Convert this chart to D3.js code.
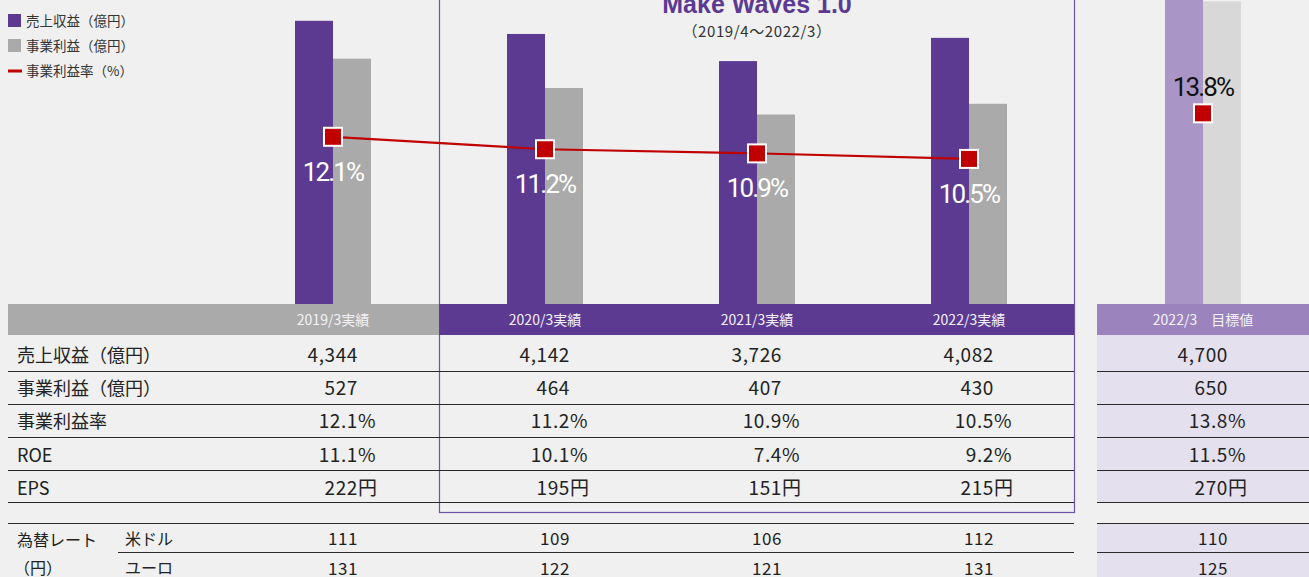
<!DOCTYPE html>
<html><head><meta charset="utf-8">
<script src="https://cdn.jsdelivr.net/npm/d3@7"></script>
<style>
html,body{margin:0;padding:0;background:#eff0ef;overflow:hidden}
svg{display:block}
</style></head>
<body>
<svg id="chart" width="1309" height="577"></svg>
<script>
// ---- data ----
const categories = ['2019/3実績','2020/3実績','2021/3実績','2022/3実績'];
const revenue = [4344, 4142, 3726, 4082];
const profit = [527, 464, 407, 430];
const margin = [12.1, 11.2, 10.9, 10.5];
const roe = [11.1, 10.1, 7.4, 9.2];
const eps = [222, 195, 151, 215];
const usd = [111, 109, 106, 112];
const eur = [131, 122, 121, 131];

const targetLabel = '2022/3　目標値';
const targetRevenue = 4700;
const targetProfit = 650;
const targetMargin = 13.8;
const targetRoe = 11.5;
const targetEps = 270;
const targetUsd = 110;
const targetEur = 125;

const legendLabels = ['売上収益（億円）','事業利益（億円）','事業利益率（%）'];
const rowLabels = ['売上収益（億円）','事業利益（億円）','事業利益率','ROE','EPS'];
const title = 'Make Waves 1.0';
const subtitle = '（2019/4～2022/3）';

// ---- styles ----
const PURPLE = '#5c3a92', GRAY = '#a9aaa9', RED = '#c00000';
const T_PURPLE = '#a995c6', T_GRAY = '#d8d8d8', T_HEAD = '#9b84bd', T_BG = '#e4e0ee';
const JP = '"Noto Sans CJK JP","Noto Sans",sans-serif';

const svg = d3.select('#chart');
const baseY = 304;

const x = d3.scaleBand().domain(categories).range([227, 1075]);
const xt = d3.scaleBand().domain([targetLabel]).range([1097, 1309]);
const cx = c => x(c) + x.bandwidth() / 2;
const tcx = xt(targetLabel) + xt.bandwidth() / 2;

const yRev = d3.scaleLinear().domain([0, 4663]).range([baseY, 0]);
const yPro = d3.scaleLinear().domain([0, 653]).range([baseY, 0]);
const yRate = d3.scaleLinear().domain([0, 22]).range([baseY, 0]);
const barW = 38;

// ---- table backgrounds ----
svg.append('rect').attr('x', 1097).attr('y', 335).attr('width', 212).attr('height', 167).attr('fill', T_BG);
svg.append('rect').attr('x', 1097).attr('y', 523).attr('width', 212).attr('height', 54).attr('fill', T_BG);

// ---- Make Waves box ----
svg.append('rect').attr('x', 439.5).attr('y', -5).attr('width', 635).attr('height', 517.5)
  .attr('fill', 'none').attr('stroke', '#6f52aa').attr('stroke-width', 1.2);
svg.append('text').attr('x', 757).attr('y', 13).attr('text-anchor', 'middle')
  .attr('font-family', '"Liberation Sans",Arial,sans-serif').attr('font-weight', 700).attr('font-size', 25)
  .attr('fill', PURPLE).text(title);
svg.append('text').attr('x', 757).attr('y', 37).attr('text-anchor', 'middle')
  .attr('font-family', JP).attr('font-size', 15).attr('letter-spacing', 0.6).attr('fill', '#333').text(subtitle);

// ---- bars ----
const g = svg.append('g');
g.selectAll('.rev').data(categories).join('rect')
  .attr('x', d => cx(d) - barW).attr('y', (d, i) => yRev(revenue[i]))
  .attr('width', barW).attr('height', (d, i) => baseY - yRev(revenue[i])).attr('fill', PURPLE);
g.selectAll('.pro').data(categories).join('rect')
  .attr('x', d => cx(d)).attr('y', (d, i) => yPro(profit[i]))
  .attr('width', barW).attr('height', (d, i) => baseY - yPro(profit[i])).attr('fill', GRAY);
// target bars
g.append('rect').attr('x', tcx - barW).attr('y', Math.max(0, yRev(targetRevenue)))
  .attr('width', barW).attr('height', baseY - Math.max(0, yRev(targetRevenue))).attr('fill', T_PURPLE);
g.append('rect').attr('x', tcx).attr('y', yPro(targetProfit))
  .attr('width', barW).attr('height', baseY - yPro(targetProfit)).attr('fill', T_GRAY);

// ---- margin line ----
const line = d3.line().x(d => cx(d)).y((d, i) => yRate(margin[i]));
g.append('path').datum(categories).attr('d', line).attr('fill', 'none')
  .attr('stroke', RED).attr('stroke-width', 2.2);
const mk = 18;
g.selectAll('.mk').data(categories).join('rect')
  .attr('x', d => cx(d) - mk / 2).attr('y', (d, i) => yRate(margin[i]) - mk / 2)
  .attr('width', mk).attr('height', mk).attr('fill', RED).attr('stroke', '#fff').attr('stroke-width', 2);
g.append('rect').attr('x', tcx - mk / 2).attr('y', yRate(targetMargin) - mk / 2)
  .attr('width', mk).attr('height', mk).attr('fill', RED).attr('stroke', '#fff').attr('stroke-width', 2);

const pctFont = 'Roboto,"Liberation Sans",sans-serif';
g.selectAll('.pl').data(categories).join('text')
  .attr('x', d => cx(d)).attr('y', (d, i) => yRate(margin[i]) + 44)
  .attr('text-anchor', 'middle').attr('font-family', pctFont).attr('font-weight', 400)
  .attr('font-size', 26).attr('letter-spacing', -1.8).attr('fill', '#fff')
  .text((d, i) => margin[i].toFixed(1) + '%');
g.append('text').attr('x', tcx).attr('y', yRate(targetMargin) - 17)
  .attr('text-anchor', 'middle').attr('font-family', pctFont).attr('font-weight', 400)
  .attr('font-size', 26).attr('letter-spacing', -1.8).attr('fill', '#111')
  .text(targetMargin.toFixed(1) + '%');

// ---- header band ----
svg.append('rect').attr('x', 8).attr('y', baseY).attr('width', 431).attr('height', 31).attr('fill', GRAY);
svg.append('rect').attr('x', 439).attr('y', baseY).attr('width', 635).attr('height', 31).attr('fill', PURPLE);
svg.append('rect').attr('x', 1097).attr('y', baseY).attr('width', 212).attr('height', 31).attr('fill', T_HEAD);
svg.selectAll('.hd').data(categories).join('text')
  .attr('x', d => cx(d)).attr('y', 325).attr('text-anchor', 'middle')
  .attr('font-family', JP).attr('font-size', 14).attr('fill', '#f4f2f8').text(d => d);
svg.append('text').attr('x', tcx).attr('y', 325).attr('text-anchor', 'middle')
  .attr('font-family', JP).attr('font-size', 14).attr('fill', '#f4f2f8').text(targetLabel);

// ---- table rows ----
const rowLines = [371, 404, 437, 470, 502, 523];
rowLines.forEach(yy => {
  svg.append('line').attr('x1', 8).attr('x2', 1074).attr('y1', yy + 0.5).attr('y2', yy + 0.5)
    .attr('stroke', '#2a2a2a').attr('stroke-width', 1.2);
  svg.append('line').attr('x1', 1097).attr('x2', 1309).attr('y1', yy + 0.5).attr('y2', yy + 0.5)
    .attr('stroke', '#2a2a2a').attr('stroke-width', 1.2);
});
svg.append('line').attr('x1', 118).attr('x2', 1074).attr('y1', 552.5).attr('y2', 552.5)
  .attr('stroke', '#2a2a2a').attr('stroke-width', 1.2);
svg.append('line').attr('x1', 1097).attr('x2', 1309).attr('y1', 552.5).attr('y2', 552.5)
  .attr('stroke', '#2a2a2a').attr('stroke-width', 1.2);

const rowBase = [362, 395, 428, 462, 495];
rowLabels.forEach((lab, r) => {
  svg.append('text').attr('x', 17).attr('y', rowBase[r]).attr('font-family', JP)
    .attr('font-size', 18).attr('fill', '#222').text(lab);
});

const fmt = d3.format(',');
const rows = [
  {vals: revenue, t: targetRevenue, f: v => fmt(v), s: ''},
  {vals: profit, t: targetProfit, f: v => fmt(v), s: ''},
  {vals: margin, t: targetMargin, f: v => v.toFixed(1), s: '%'},
  {vals: roe, t: targetRoe, f: v => v.toFixed(1), s: '%'},
  {vals: eps, t: targetEps, f: v => String(v), s: '円'},
];
function cell(xc, yb, num, suf, size) {
  svg.append('text').attr('x', xc + 25).attr('y', yb).attr('text-anchor', 'end')
    .attr('font-family', JP).attr('font-size', size).attr('letter-spacing', 0.6).attr('fill', '#222').text(num);
  if (suf) svg.append('text').attr('x', xc + 25).attr('y', yb).attr('font-family', JP)
    .attr('font-size', size).attr('fill', '#222').text(suf);
}
rows.forEach((row, r) => {
  categories.forEach((c, i) => cell(cx(c), rowBase[r], row.f(row.vals[i]), row.s, 19));
  cell(tcx, rowBase[r], row.f(row.t), row.s, 19);
});

// fx rows
svg.append('text').attr('x', 17).attr('y', 546).attr('font-family', JP).attr('font-size', 16).attr('fill', '#222').text('為替レート');
svg.append('text').attr('x', 14).attr('y', 574).attr('font-family', JP).attr('font-size', 16).attr('fill', '#222').text('（円）');
svg.append('text').attr('x', 125).attr('y', 545).attr('font-family', JP).attr('font-size', 16).attr('fill', '#222').text('米ドル');
svg.append('text').attr('x', 125).attr('y', 574).attr('font-family', JP).attr('font-size', 16).attr('fill', '#222').text('ユーロ');
categories.forEach((c, i) => {
  cell(cx(c), 545, String(usd[i]), '', 17);
  cell(cx(c), 575, String(eur[i]), '', 17);
});
cell(tcx, 545, String(targetUsd), '', 17);
cell(tcx, 575, String(targetEur), '', 17);

// ---- legend ----
const legY = [21, 46, 71];
const lg = svg.append('g');
lg.append('rect').attr('x', 8).attr('y', legY[0] - 7).attr('width', 13).attr('height', 13).attr('fill', PURPLE);
lg.append('rect').attr('x', 8).attr('y', legY[1] - 7).attr('width', 13).attr('height', 13).attr('fill', GRAY);
lg.append('rect').attr('x', 8).attr('y', legY[2] - 1.5).attr('width', 14).attr('height', 3).attr('fill', RED);
legendLabels.forEach((l, i) => {
  lg.append('text').attr('x', 26).attr('y', legY[i] + 5).attr('font-family', JP)
    .attr('font-size', 13.5).attr('fill', '#333').text(l);
});
</script>
</body></html>
